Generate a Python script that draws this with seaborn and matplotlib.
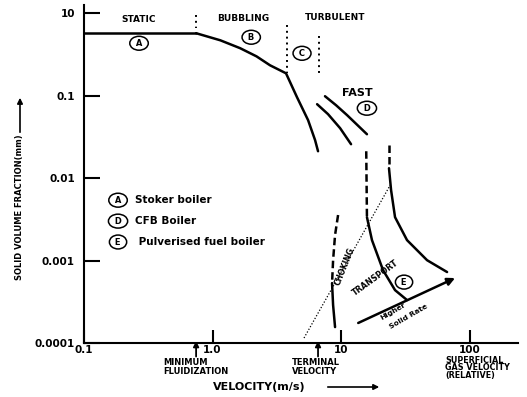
import matplotlib
matplotlib.use('Agg')
import matplotlib.pyplot as plt
import seaborn as sns

# ==========================================
# 1. data (log-log)
# ==========================================
static_x = [0.1, 0.745]
static_y = [0.573, 0.573]

bubbling_x = [0.745, 1.15, 1.64, 2.20, 2.80, 3.73, 4.54, 5.54, 6.28, 6.62]
bubbling_y = [0.573, 0.47, 0.377, 0.30, 0.234, 0.187, 0.096, 0.0505, 0.0289, 0.0212]

fast1_x = [6.51, 7.92, 9.83, 11.96]
fast1_y = [0.0789, 0.0597, 0.0404, 0.0258]
fast2_x = [7.50, 9.14, 11.14, 15.9]
fast2_y = [0.0986, 0.0767, 0.0581, 0.0341]

# transport curves: dashed top part, solid lower part
transA_dash_x = [15.7, 15.9]
transA_dash_y = [0.0212, 0.00336]
transA_x = [15.9, 17.4, 21.2, 26.3, 32.6]
transA_y = [0.00336, 0.00177, 0.000767, 0.000438, 0.000332]

transB_dash_x = [23.6, 23.6]
transB_dash_y = [0.0251, 0.0132]
transB_x = [23.6, 24.5, 26.3, 32.6, 46.7, 66.8]
transB_y = [0.0132, 0.00716, 0.00336, 0.00177, 0.00101, 0.000726]

choke_dash_x = [9.48, 8.98, 8.67, 8.51]
choke_dash_y = [0.00357, 0.00204, 0.00101, 0.000533]
choke_x = [8.51, 8.67, 8.98]
choke_y = [0.000533, 0.000289, 0.000156]

choking_line_x = [5.15, 24.1]
choking_line_y = [0.000115, 0.00822]

# regime boundaries (dotted)
bounds_x = [0.745, 3.80, 6.74]
bounds_top = [0.946, 0.716, 0.526]
bounds_bottom = [0.658, 0.187, 0.187]

# "higher solid rate" arrow
arrow_x = [13.6, 77.1]
arrow_y = [0.000175, 0.000614]

x_ticks = [0.1, 1, 10, 100]
x_labels = ['0.1', '1.0', '10', '100']
y_ticks = [1, 0.1, 0.01, 0.001, 0.0001]
y_labels = ['10', '0.1', '0.01', '0.001', '0.0001']

min_fluid_v = 0.745
terminal_v = 6.62

# ==========================================
# 2. figure
# ==========================================
sns.set_style('white')
plt.rcParams['font.family'] = ['DejaVu Sans']
plt.rcParams['font.weight'] = 'bold'
for k in ['text.color', 'axes.labelcolor', 'xtick.color', 'ytick.color']:
    plt.rcParams[k] = 'black'

fig = plt.figure(figsize=(5.27, 3.97), dpi=100)
ax = fig.add_axes([0.1594, 0.1360, 0.8235, 0.8514])
ax.set(xscale='log', yscale='log')

lw = 1.8


def curve(xs, ys, **kw):
    sns.lineplot(x=xs, y=ys, sort=False, estimator=None, color='black',
                 ax=ax, **kw)


for xs, ys in [(static_x, static_y), (bubbling_x, bubbling_y),
               (fast1_x, fast1_y), (fast2_x, fast2_y), (transA_x, transA_y),
               (transB_x, transB_y), (choke_x, choke_y)]:
    curve(xs, ys, lw=lw)

for xs, ys in [(transA_dash_x, transA_dash_y), (transB_dash_x, transB_dash_y),
               (choke_dash_x, choke_dash_y)]:
    curve(xs, ys, lw=lw, linestyle=(0, (3, 1.6)))

curve(choking_line_x, choking_line_y, lw=0.9, linestyle=(0, (1, 1.5)))

for bx, bt, bb in zip(bounds_x, bounds_top, bounds_bottom):
    curve([bx, bx], [bt, bb], lw=1.4, linestyle=(0, (1, 2)))

ax.annotate('', xy=(arrow_x[1], arrow_y[1]), xytext=(arrow_x[0], arrow_y[0]),
            arrowprops=dict(arrowstyle='-|>', lw=lw, color='black',
                            mutation_scale=11, shrinkA=0, shrinkB=0))

# axes styling
ax.set_xlim(0.1, 238)
ax.set_ylim(0.0001, 1.26)
for s in ['top', 'right']:
    ax.spines[s].set_visible(False)
for s in ['left', 'bottom']:
    ax.spines[s].set_linewidth(1.5)
    ax.spines[s].set_color('black')
ax.set_xticks(x_ticks)
ax.set_xticklabels(x_labels)
ax.set_yticks(y_ticks)
ax.set_yticklabels(y_labels)
ax.minorticks_off()
ax.tick_params(axis='y', direction='in', length=11.5, width=1.5, pad=6.5,
               labelsize=7.5, left=True)
ax.tick_params(axis='x', direction='in', length=9.4, width=1.5, pad=1.5,
               labelsize=7.5, bottom=True)
ax.set_xlabel('')
ax.set_ylabel('')

# regime labels
ax.text(0.268, 0.845, 'STATIC', ha='center', va='center', fontsize=6.5)
ax.text(1.73, 0.869, 'BUBBLING', ha='center', va='center', fontsize=6.5)
ax.text(8.98, 0.89, 'TURBULENT', ha='center', va='center', fontsize=6.5)
ax.text(13.3, 0.107, 'FAST', ha='center', va='center', fontsize=8)

circ = dict(boxstyle='ellipse,pad=0.05', fc='white', ec='black', lw=1.1)
for cx, cy, c in [(0.268, 0.433, 'A'), (2.0, 0.512, 'B'), (4.97, 0.327, 'C'),
                  (15.9, 0.0705, 'D'), (30.9, 0.000548, 'E')]:
    ax.text(cx, cy, ' ' + c + ' ', ha='center', va='center', fontsize=6,
            bbox=circ)

# legend-like notes
for ly, c, txt in [(0.0054, 'A', 'Stoker boiler'), (0.00301, 'D', 'CFB Boiler'),
                   (0.00168, 'E', ' Pulverised fuel boiler')]:
    ax.text(0.184, ly, ' ' + c + ' ', ha='center', va='center', fontsize=6,
            bbox=circ)
    ax.text(0.249, ly, txt, ha='left', va='center', fontsize=7.5)

ax.text(10.7, 0.000857, 'CHOKING', rotation=68, ha='center', va='center',
        fontsize=5.5, rotation_mode='anchor')
ax.text(18.4, 0.000614, 'TRANSPORT', rotation=36, ha='center', va='center',
        fontsize=5.8, rotation_mode='anchor')
ax.text(25.4, 0.000244, 'Higher', rotation=30, ha='center', va='center',
        fontsize=5.3, rotation_mode='anchor')
ax.text(33.8, 0.000207, 'Solid Rate', rotation=30, ha='center', va='center',
        fontsize=5.3, rotation_mode='anchor')

# arrows below the axis
for v in [min_fluid_v, terminal_v]:
    ax.annotate('', xy=(v, 0.006), xycoords=('data', 'axes fraction'),
                xytext=(v, -0.04), textcoords=('data', 'axes fraction'),
                arrowprops=dict(arrowstyle='-|>', lw=1.3, color='black',
                                mutation_scale=8, shrinkA=0, shrinkB=0),
                annotation_clip=False)

fig.text(163 / 527, 1 - 367 / 397, 'MINIMUM\nFLUIDIZATION', ha='left',
         va='center', fontsize=6, linespacing=0.95)
fig.text(292 / 527, 1 - 367 / 397, 'TERMINAL\nVELOCITY', ha='left',
         va='center', fontsize=6, linespacing=0.95)
fig.text(445 / 527, 1 - 368 / 397, 'SUPERFICIAL\nGAS VELOCITY\n(RELATIVE)',
         ha='left', va='center', fontsize=5.8, linespacing=0.85)
fig.text(259 / 527, 1 - 387 / 397, 'VELOCITY(m/s)', ha='center', va='center',
         fontsize=8)
fig.patches.append(matplotlib.patches.FancyArrowPatch(
    (325 / 527, 1 - 387 / 397), (382 / 527, 1 - 387 / 397),
    transform=fig.transFigure, arrowstyle='-|>', mutation_scale=8, lw=1.2,
    color='black'))

fig.text(20 / 527, 1 - 207 / 397, 'SOLID VOLUME FRACTION(mm)', rotation=90,
         ha='center', va='center', fontsize=6)
fig.patches.append(matplotlib.patches.FancyArrowPatch(
    (20 / 527, 1 - 135 / 397), (20 / 527, 1 - 95 / 397),
    transform=fig.transFigure, arrowstyle='-|>', mutation_scale=8, lw=1.2,
    color='black'))

fig.savefig('out.png', dpi=100)
